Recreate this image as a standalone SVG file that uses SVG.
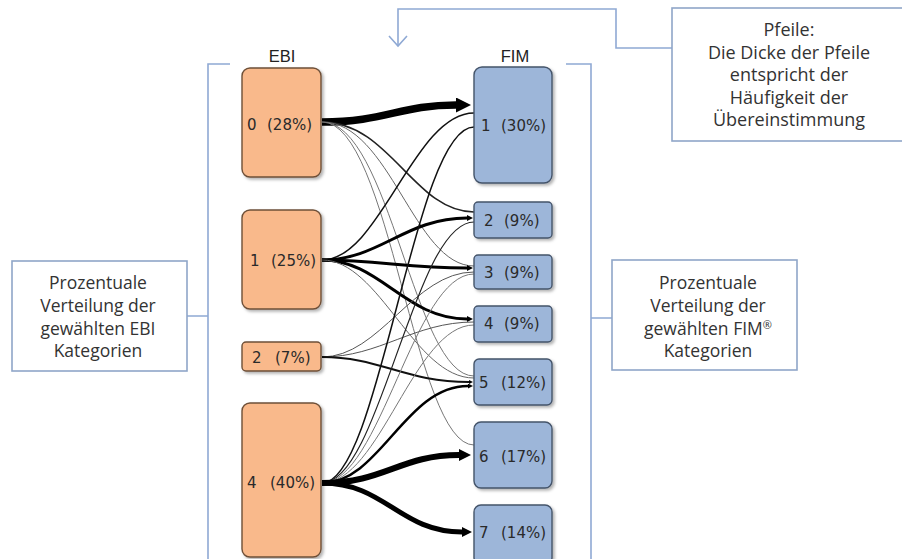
<svg xmlns="http://www.w3.org/2000/svg" width="902" height="559" viewBox="0 0 902 559">
<defs>
<style>
.ebi{fill:#F9B98B;stroke:#6E5038;stroke-width:1.4}
.fim{fill:#9DB6D9;stroke:#44546A;stroke-width:1.4}
.lbl{font-family:"DejaVu Sans",Verdana,sans-serif;font-size:15px;fill:#2a2a2a}
.hdr{font-family:"Liberation Sans",Arial,sans-serif;font-size:16.5px;fill:#222;text-anchor:middle}
.note{font-family:"Open Sans","Noto Sans",sans-serif;fill:#333;text-anchor:middle}
.frame{fill:none;stroke:#8FA9D4;stroke-width:1.6}
.box{fill:#fff;stroke:#8FA6C8;stroke-width:1.6}
.c{fill:none;stroke-linecap:butt}
</style>
<filter id="sh" x="-10%" y="-10%" width="130%" height="130%">
<feDropShadow dx="2" dy="2" stdDeviation="1.5" flood-color="#000" flood-opacity="0.3"/>
</filter>
<marker id="ak" viewBox="0 0 10 10" refX="0" refY="5" markerWidth="2.4" markerHeight="2" orient="auto" markerUnits="strokeWidth">
<path d="M0,0 L10,5 L0,10 z" fill="#000"/>
</marker>
</defs>
<rect width="902" height="559" fill="#fff"/>

<g id="brackets">
<path class="frame" d="M230,64 H208 V559 M187,316 H208"/>
<path class="frame" d="M566,64 H591 V559 M591,318 H612"/>
<path class="frame" d="M672,48 H616 V9 H398 V46"/>
<path class="frame" d="M389,36 L398,46 L407,36"/>
</g>

<g id="headers">
<text class="hdr" x="282" y="62">EBI</text>
<text class="hdr" x="515" y="62">FIM</text>
</g>

<g id="connectors">
<path class="c" stroke="#000" stroke-width="7.5" marker-end="url(#ak)" d="M322,122 C385,122 400,105 456,105"/>
<path class="c" stroke="#222" stroke-width="1.5" d="M322,122 C390,122 414,212 474,212"/>
<path class="c" stroke="#666" stroke-width="1" d="M322,122 C390,122 414,266 474,266"/>
<path class="c" stroke="#777" stroke-width="1" d="M322,122 C390,122 414,376 474,376"/>
<path class="c" stroke="#777" stroke-width="1" d="M322,122 C390,122 414,445 474,445"/>

<path class="c" stroke="#111" stroke-width="1.5" d="M322,260 C380,260 414,113 474,113"/>
<path class="c" stroke="#000" stroke-width="3" marker-end="url(#ak)" d="M322,260 C380,260 405,218 467,218"/>
<path class="c" stroke="#000" stroke-width="3" marker-end="url(#ak)" d="M322,260 C380,260 405,268 467,268"/>
<path class="c" stroke="#000" stroke-width="3" marker-end="url(#ak)" d="M322,260 C380,260 405,319 467,319"/>
<path class="c" stroke="#666" stroke-width="1" d="M322,260 C380,260 414,378 474,378"/>

<path class="c" stroke="#555" stroke-width="1" d="M322,357 C380,357 414,272 474,272"/>
<path class="c" stroke="#555" stroke-width="1" d="M322,357 C380,357 414,322 474,322"/>
<path class="c" stroke="#111" stroke-width="2" marker-end="url(#ak)" d="M322,357 C380,357 405,382 469,382"/>

<path class="c" stroke="#111" stroke-width="1.5" d="M322,483 C380,483 414,127 474,127"/>
<path class="c" stroke="#222" stroke-width="1.2" d="M322,483 C380,483 414,222 474,222"/>
<path class="c" stroke="#777" stroke-width="1" d="M322,483 C380,483 414,274 474,274"/>
<path class="c" stroke="#777" stroke-width="1" d="M322,483 C380,483 414,325 474,325"/>
<path class="c" stroke="#000" stroke-width="2.5" marker-end="url(#ak)" d="M322,483 C380,483 405,386 468,386"/>
<path class="c" stroke="#000" stroke-width="6" marker-end="url(#ak)" d="M322,483 C385,483 400,455 459,455"/>
<path class="c" stroke="#000" stroke-width="5" marker-end="url(#ak)" d="M322,483 C385,483 400,532 462,532"/>
</g>

<g id="ebi0"><rect class="ebi" filter="url(#sh)" x="242" y="68" width="79" height="109" rx="8"/><text class="lbl" y="130"><tspan x="247">0</tspan><tspan x="267">(28%)</tspan></text></g>
<g id="ebi1"><rect class="ebi" filter="url(#sh)" x="242" y="210" width="79" height="99" rx="8"/><text class="lbl" y="266"><tspan x="250">1</tspan><tspan x="271">(25%)</tspan></text></g>
<g id="ebi2"><rect class="ebi" filter="url(#sh)" x="242" y="342" width="79" height="29" rx="4"/><text class="lbl" y="363"><tspan x="252">2</tspan><tspan x="275">(7%)</tspan></text></g>
<g id="ebi4"><rect class="ebi" filter="url(#sh)" x="242" y="403" width="79" height="154" rx="8"/><text class="lbl" y="488"><tspan x="247">4</tspan><tspan x="270">(40%)</tspan></text></g>

<g id="fim1"><rect class="fim" filter="url(#sh)" x="474" y="67" width="78" height="116" rx="8"/><text class="lbl" y="131"><tspan x="481">1</tspan><tspan x="501">(30%)</tspan></text></g>
<g id="fim2"><rect class="fim" filter="url(#sh)" x="474" y="202" width="78" height="36" rx="4"/><text class="lbl" y="226"><tspan x="484">2</tspan><tspan x="504">(9%)</tspan></text></g>
<g id="fim3"><rect class="fim" filter="url(#sh)" x="474" y="255" width="78" height="34" rx="4"/><text class="lbl" y="278"><tspan x="484">3</tspan><tspan x="504">(9%)</tspan></text></g>
<g id="fim4"><rect class="fim" filter="url(#sh)" x="474" y="306" width="78" height="36" rx="4"/><text class="lbl" y="329"><tspan x="484">4</tspan><tspan x="504">(9%)</tspan></text></g>
<g id="fim5"><rect class="fim" filter="url(#sh)" x="474" y="359" width="78" height="46" rx="5"/><text class="lbl" y="388"><tspan x="479">5</tspan><tspan x="501">(12%)</tspan></text></g>
<g id="fim6"><rect class="fim" filter="url(#sh)" x="474" y="422" width="78" height="66" rx="7"/><text class="lbl" y="462"><tspan x="479">6</tspan><tspan x="501">(17%)</tspan></text></g>
<g id="fim7"><rect class="fim" filter="url(#sh)" x="474" y="505" width="78" height="60" rx="7"/><text class="lbl" y="538"><tspan x="479">7</tspan><tspan x="501">(14%)</tspan></text></g>

<g id="note-arrows">
<rect class="box" x="672" y="8" width="236" height="133"/>
<text class="note" font-size="18"><tspan x="789" y="36">Pfeile:</tspan><tspan x="789" y="58.5">Die Dicke der Pfeile</tspan><tspan x="789" y="81">entspricht der</tspan><tspan x="789" y="103.5">Häufigkeit der</tspan><tspan x="789" y="126">Übereinstimmung</tspan></text>
</g>
<g id="note-ebi">
<rect class="box" x="12" y="261" width="175" height="110"/>
<text class="note" font-size="17.5"><tspan x="98" y="289">Prozentuale</tspan><tspan x="98" y="312">Verteilung der</tspan><tspan x="98" y="335">gewählten EBI</tspan><tspan x="98" y="357">Kategorien</tspan></text>
</g>
<g id="note-fim">
<rect class="box" x="612" y="260" width="185" height="110"/>
<text class="note" font-size="17.5"><tspan x="708" y="289">Prozentuale</tspan><tspan x="708" y="312">Verteilung der</tspan><tspan x="708" y="335">gewählten FIM<tspan font-size="11" dy="-6">®</tspan></tspan><tspan x="708" y="357">Kategorien</tspan></text>
</g>
</svg>
